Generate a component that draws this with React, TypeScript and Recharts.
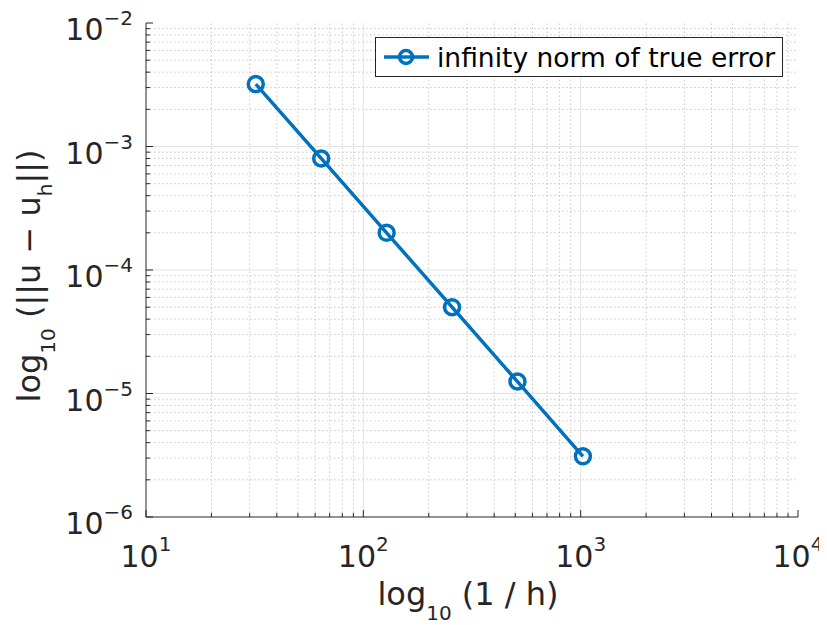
import { LineChart, Line, XAxis, YAxis, ReferenceLine, Legend } from "recharts"

const n = [32, 64, 128, 256, 512, 1024]
const infNormError = [3.2e-3, 8.0e-4, 2.0e-4, 5.0e-5, 1.25e-5, 3.1e-6]
const xMajor = [10, 100, 1000, 10000]
const yMajor = [1e-6, 1e-5, 1e-4, 1e-3, 1e-2]
const minorSteps = [2, 3, 4, 5, 6, 7, 8, 9]
const seriesName = "infinity norm of true error"

const data = n.map((h, i) => ({ n: h, err: infNormError[i] }))

const minorsOf = (majors: number[]) =>
  majors.slice(0, -1).flatMap((m) => minorSteps.map((s) => m * s))
const xMinor = minorsOf(xMajor)
const yMinor = minorsOf(yMajor)
const xTicks = [...xMajor, ...xMinor]
const yTicks = [...yMajor, ...yMinor]

const FONT = "DejaVu Sans"
const INK = "#262626"
const BLUE = "#0072BD"

const expOf = (v: number) => Math.round(Math.log10(v))
const isMajor = (v: number) => Math.abs(Math.log10(v) - expOf(v)) < 1e-9
const supText = (v: number) => {
  const e = expOf(v)
  return e < 0 ? "\u2212" + -e : String(e)
}

const BottomTick = ({ x, y, payload }: any) => {
  const v = payload.value
  const major = isMajor(v)
  return (
    <g>
      <line x1={x} x2={x} y1={y} y2={y - (major ? 7 : 4)} stroke={INK} />
      {major && (
        <text x={x} y={y + 50} textAnchor="middle" fontFamily={FONT} fontSize={30} fill={INK}>
          10<tspan dy={-16} fontSize={20}>{supText(v)}</tspan>
        </text>
      )}
    </g>
  )
}

const LeftTick = ({ x, y, payload }: any) => {
  const v = payload.value
  const major = isMajor(v)
  return (
    <g>
      <line x1={x} x2={x + (major ? 7 : 4)} y1={y} y2={y} stroke={INK} />
      {major && (
        <text x={x - 13} y={y + 17} textAnchor="end" fontFamily={FONT} fontSize={30} fill={INK}>
          10<tspan dy={-15} fontSize={20}>{supText(v)}</tspan>
        </text>
      )}
    </g>
  )
}

const TopTick = ({ x, y, payload }: any) => (
  <line x1={x} x2={x} y1={y} y2={y + (isMajor(payload.value) ? 7 : 4)} stroke={INK} />
)

const RightTick = ({ x, y, payload }: any) => (
  <line x1={x} x2={x - (isMajor(payload.value) ? 7 : 4)} y1={y} y2={y} stroke={INK} />
)

const XLabel = ({ viewBox }: any) => {
  const cx = viewBox.x + viewBox.width / 2 - 4
  const by = viewBox.y + 88
  return (
    <text x={cx} y={by} textAnchor="middle" fontFamily={FONT} fontSize={32} fill={INK}>
      log<tspan dy={15} fontSize={20}>10</tspan>
      <tspan dy={-15}> (1 / h)</tspan>
    </text>
  )
}

const YLabel = () => {
  const cx = 32
  const cy = 268
  return (
    <text
      x={cx}
      y={cy}
      transform={`rotate(-90, ${cx}, ${cy})`}
      textAnchor="middle"
      fontFamily={FONT}
      fontSize={32}
      fill={INK}
    >
      log<tspan dy={15} fontSize={20}>10</tspan>
      <tspan dy={-15}> (||u {"\u2212"} u</tspan>
      <tspan dy={12} fontSize={20}>h</tspan>
      <tspan dy={-12}>||)</tspan>
    </text>
  )
}

const LegendBox = ({ payload }: any) => (
  <div
    style={{
      display: "flex",
      alignItems: "center",
      width: 406,
      height: 38,
      border: `1px solid ${INK}`,
      background: "#fff",
      fontFamily: FONT,
      fontSize: 26.5,
      color: "#000",
      whiteSpace: "nowrap",
    }}
  >
    <svg width={61} height={38} style={{ flex: "none" }}>
      <line x1={8} x2={53} y1={19} y2={19} stroke={BLUE} strokeWidth={3.5} />
      <circle cx={30} cy={19} r={6.5} fill="none" stroke={BLUE} strokeWidth={3.5} />
    </svg>
    <span>{payload && payload[0] ? payload[0].value : seriesName}</span>
  </div>
)

export default function App() {
  return (
    <LineChart width={819} height={617} data={data} margin={{ top: 15, right: 29, bottom: 0, left: 0 }}>
      <XAxis
        xAxisId="b"
        dataKey="n"
        type="number"
        scale="log"
        domain={[10, 10000]}
        allowDataOverflow
        ticks={xTicks}
        interval={0}
        tickSize={0}
        tickMargin={0}
        tick={<BottomTick />}
        axisLine={{ stroke: INK }}
        height={108}
        label={<XLabel />}
      />
      <XAxis
        xAxisId="t"
        orientation="top"
        type="number"
        scale="log"
        domain={[10, 10000]}
        allowDataOverflow
        ticks={xTicks}
        interval={0}
        tickSize={0}
        tickMargin={0}
        tick={<TopTick />}
        axisLine={{ stroke: INK }}
        height={0}
      />
      <YAxis
        yAxisId="l"
        type="number"
        scale="log"
        domain={[1e-6, 1e-2]}
        allowDataOverflow
        ticks={yTicks}
        interval={0}
        tickSize={0}
        tickMargin={0}
        tick={<LeftTick />}
        axisLine={{ stroke: INK }}
        width={138}
        label={<YLabel />}
      />
      <YAxis
        yAxisId="r"
        orientation="right"
        type="number"
        scale="log"
        domain={[1e-6, 1e-2]}
        allowDataOverflow
        ticks={yTicks}
        interval={0}
        tickSize={0}
        tickMargin={0}
        tick={<RightTick />}
        axisLine={{ stroke: INK }}
        width={0}
      />
      {xMinor.map((v) => (
        <ReferenceLine key={`xm${v}`} x={v} xAxisId="b" yAxisId="l" stroke="#c8c8c8" strokeDasharray="1.5 2.5" />
      ))}
      {yMinor.map((v) => (
        <ReferenceLine key={`ym${v}`} y={v} xAxisId="b" yAxisId="l" stroke="#c8c8c8" strokeDasharray="1.5 2.5" />
      ))}
      {xMajor.slice(1, -1).map((v) => (
        <ReferenceLine key={`xM${v}`} x={v} xAxisId="b" yAxisId="l" stroke="#e3e3e3" />
      ))}
      {yMajor.slice(1, -1).map((v) => (
        <ReferenceLine key={`yM${v}`} y={v} xAxisId="b" yAxisId="l" stroke="#e3e3e3" />
      ))}
      <Line
        xAxisId="b"
        yAxisId="l"
        dataKey="err"
        name={seriesName}
        stroke={BLUE}
        strokeWidth={3.5}
        dot={{ r: 7.5, stroke: BLUE, strokeWidth: 3.5, fill: "none" }}
        isAnimationActive={false}
      />
      <Legend
        content={<LegendBox />}
        layout="horizontal"
        verticalAlign="middle"
        align="center"
        wrapperStyle={{ position: "absolute", left: 367, top: 29, width: "auto" }}
      />
    </LineChart>
  )
}
